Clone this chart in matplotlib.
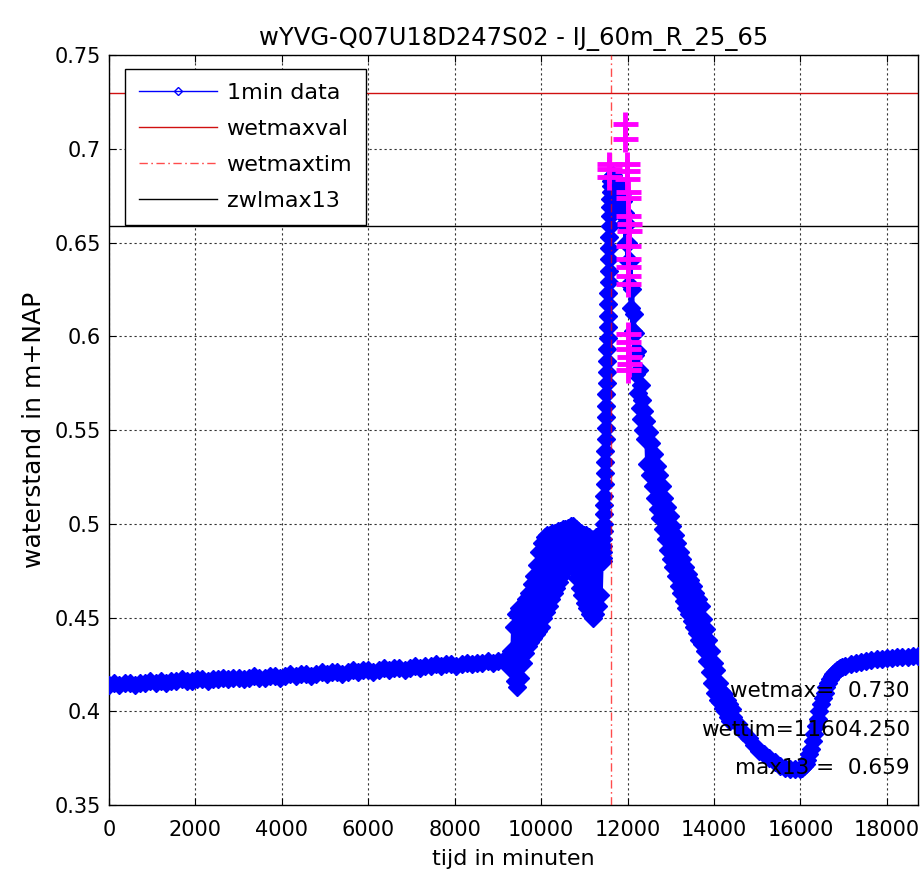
import numpy as np
import matplotlib
matplotlib.use("Agg")
import matplotlib.pyplot as plt

plt.rcParams["font.family"] = ["DejaVu Sans"]

title = "wYVG-Q07U18D247S02 - IJ_60m_R_25_65"

# --- 1-minute water level record (m+NAP), read per segment ---
t_base = np.arange(0, 9241, 120)
wl_base = [0.414, 0.415, 0.414, 0.415, 0.415, 0.414, 0.415, 0.415, 0.416, 0.415,
           0.416, 0.415, 0.416, 0.416, 0.417, 0.416, 0.416, 0.417, 0.417, 0.416,
           0.417, 0.417, 0.418, 0.417, 0.418, 0.418, 0.417, 0.418, 0.419, 0.418,
           0.418, 0.419, 0.419, 0.418, 0.419, 0.420, 0.419, 0.420, 0.420, 0.419,
           0.420, 0.421, 0.420, 0.421, 0.421, 0.420, 0.421, 0.422, 0.421, 0.422,
           0.422, 0.421, 0.422, 0.423, 0.422, 0.423, 0.423, 0.422, 0.423, 0.424,
           0.423, 0.424, 0.424, 0.425, 0.424, 0.425, 0.425, 0.424, 0.425, 0.426,
           0.425, 0.426, 0.426, 0.427, 0.426, 0.427, 0.427, 0.426]

t_surge = np.arange(9300, 11401, 30)
wl_surge = [0.432, 0.422, 0.445, 0.416, 0.452, 0.413, 0.455, 0.418, 0.455, 0.426,
            0.457, 0.431, 0.460, 0.435, 0.463, 0.437, 0.468, 0.439, 0.472, 0.441,
            0.478, 0.443, 0.485, 0.445, 0.490, 0.450, 0.493, 0.453, 0.494, 0.456,
            0.494, 0.460, 0.495, 0.463, 0.495, 0.466, 0.496, 0.469, 0.496, 0.472,
            0.497, 0.475, 0.497, 0.477, 0.498, 0.478, 0.499, 0.479, 0.499, 0.476,
            0.497, 0.471, 0.496, 0.466, 0.495, 0.462, 0.494, 0.458, 0.494, 0.455,
            0.493, 0.452, 0.492, 0.450, 0.492, 0.452, 0.493, 0.456, 0.494, 0.462,
            0.488]

t_rise = np.arange(11420, 11621, 5)
wl_rise = [0.480, 0.482, 0.485, 0.488, 0.492, 0.496, 0.500, 0.505, 0.510, 0.515,
           0.521, 0.527, 0.533, 0.539, 0.545, 0.551, 0.557, 0.563, 0.569, 0.575,
           0.581, 0.587, 0.593, 0.599, 0.605, 0.611, 0.617, 0.623, 0.629, 0.635,
           0.641, 0.647, 0.653, 0.659, 0.664, 0.669, 0.673, 0.677, 0.680, 0.683,
           0.685]

t_peak = np.arange(11640, 12401, 20)
wl_peak = [0.680, 0.686, 0.676, 0.684, 0.672, 0.682, 0.670, 0.680, 0.668, 0.678,
           0.667, 0.676, 0.665, 0.672, 0.660, 0.666, 0.650, 0.660, 0.640, 0.650,
           0.628, 0.640, 0.615, 0.625, 0.603, 0.612, 0.590, 0.602, 0.580, 0.592,
           0.570, 0.582, 0.562, 0.574, 0.556, 0.566, 0.550, 0.560, 0.545]

t_fall = np.arange(12430, 14411, 30)
wl_fall = [0.555, 0.532, 0.549, 0.526, 0.543, 0.520, 0.537, 0.514, 0.531, 0.508,
           0.526, 0.503, 0.520, 0.497, 0.514, 0.492, 0.509, 0.486, 0.504, 0.481,
           0.499, 0.477, 0.494, 0.472, 0.490, 0.467, 0.485, 0.463, 0.481, 0.459,
           0.477, 0.455, 0.473, 0.452, 0.470, 0.448, 0.467, 0.445, 0.463, 0.442,
           0.460, 0.438, 0.456, 0.436, 0.449, 0.432, 0.444, 0.427, 0.438, 0.421,
           0.432, 0.415, 0.426, 0.410, 0.422, 0.406, 0.415, 0.405, 0.411, 0.402,
           0.409, 0.400, 0.406, 0.397, 0.404, 0.395, 0.401]

t_ebb = np.arange(14440, 16001, 120)
wl_ebb = [0.397, 0.393, 0.389, 0.386, 0.382, 0.379, 0.377, 0.375, 0.373, 0.371,
          0.370, 0.369, 0.369, 0.369]

t_recover = np.arange(16040, 16961, 40)
wl_recover = [0.370, 0.371, 0.372, 0.374, 0.377, 0.380, 0.384, 0.388, 0.392, 0.396,
              0.400, 0.404, 0.407, 0.410, 0.413, 0.415, 0.417, 0.419, 0.420, 0.421,
              0.422, 0.4225, 0.423, 0.4235]

t_tail = np.arange(17040, 18721, 120)
wl_tail = [0.424, 0.425, 0.426, 0.4265, 0.427, 0.4275, 0.428, 0.428, 0.4285, 0.4285,
           0.429, 0.429, 0.429, 0.4295, 0.4295]

# --- values around the maximum, marked with crosses ---
t_cross = [11570, 11570, 11570, 11930, 11930, 11990, 11990, 11990, 12010, 12010,
           12020, 12030, 12030, 12020, 12010, 12000, 12010, 12020,
           12000, 12010, 12020, 12030, 12040, 12020]
wl_cross = [0.692, 0.689, 0.685, 0.713, 0.705, 0.692, 0.688, 0.684, 0.677, 0.674,
            0.664, 0.660, 0.656, 0.648, 0.641, 0.637, 0.632, 0.628,
            0.601, 0.597, 0.593, 0.589, 0.585, 0.582]

wetmax = 0.730
wettim = 11604.250
max13 = 0.659

x_ticks = list(range(0, 18001, 2000))
y_ticks = [0.35, 0.40, 0.45, 0.50, 0.55, 0.60, 0.65, 0.70, 0.75]
y_tick_labels = ["0.35", "0.4", "0.45", "0.5", "0.55", "0.6", "0.65", "0.7", "0.75"]

t = np.concatenate([t_base, t_surge, t_rise, t_peak, t_fall, t_ebb, t_recover, t_tail])
wl = np.concatenate([wl_base, wl_surge, wl_rise, wl_peak, wl_fall, wl_ebb, wl_recover, wl_tail])

fig = plt.figure(figsize=(9.22, 8.74), dpi=100)
ax = fig.add_axes([0.1182, 0.0789, 0.8775, 0.8581])

# dense 1-minute record: overlapping diamonds merge into a solid band
ax.plot(t, wl, color="blue", lw=3.5, marker="D", ms=9.5, mfc="blue", mec="blue",
        mew=1, zorder=3, label="_nolegend_")
h_data, = ax.plot([], [], color="blue", lw=1, marker="D", ms=4.5, mfc="none",
                  mec="blue", mew=1, label="1min data")
ax.axhline(wetmax, color="#d01010", lw=1, label="wetmaxval", zorder=2)
ax.axvline(wettim, color="red", lw=1, ls=(0, (6, 2.5, 1.2, 2.5)), alpha=0.7,
           label="wetmaxtim", zorder=4)
ax.axhline(max13, color="black", lw=1, label="zwlmax13", zorder=2)
ax.plot(t_cross, wl_cross, ls="none", marker="+", ms=18, mew=3.5,
        color="magenta", zorder=5, label="_nolegend_")

ax.set_xlim(0, 18720)
ax.set_ylim(0.35, 0.75)
ax.set_xticks(x_ticks)
ax.set_xticklabels([str(v) for v in x_ticks])
ax.set_yticks(y_ticks)
ax.set_yticklabels(y_tick_labels)
ax.tick_params(direction="in", top=True, right=True, length=5, labelsize=15,
               pad=6)
ax.tick_params(axis="x", pad=11)
ax.grid(True, color="#333333", ls=(0, (2, 2.5)), lw=0.8)
for s in ax.spines.values():
    s.set_linewidth(1)

ax.set_title(title, fontsize=17.5, pad=7)
ax.set_xlabel("tijd in minuten", fontsize=16, labelpad=6)
ax.set_ylabel("waterstand in m+NAP", fontsize=18, labelpad=6)

txt_kw = dict(transform=ax.transAxes, ha="right", va="center", fontsize=15.5,
              zorder=6)
ax.text(0.990, 0.152, "wetmax=  %.3f" % wetmax, **txt_kw)
ax.text(0.990, 0.100, "wettim=%.3f" % wettim, **txt_kw)
ax.text(0.990, 0.0493, "max13 =  %.3f" % max13, **txt_kw)

leg = ax.legend(loc="upper left", bbox_to_anchor=(0.0198, 0.981),
                borderaxespad=0, fontsize=16, numpoints=1, fancybox=False,
                framealpha=1, edgecolor="black", handlelength=3.5,
                handletextpad=0.45, labelspacing=0.72, borderpad=0.62)
leg.get_frame().set_linewidth(1)
leg.set_zorder(10)

fig.savefig("out.png", dpi=100)
